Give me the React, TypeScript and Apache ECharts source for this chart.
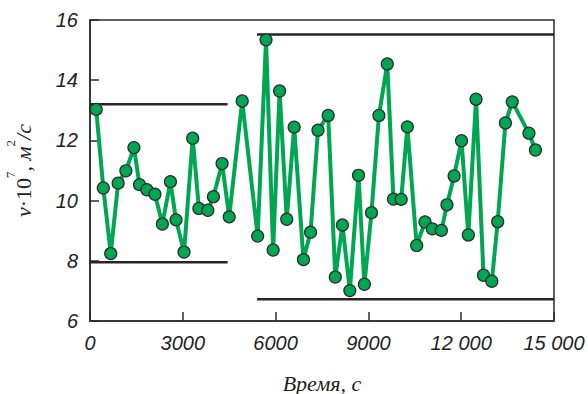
import React, { useEffect, useRef } from "react";
import * as echarts from "echarts";

const times = [
  200, 430, 670, 910, 1160, 1420, 1600, 1840, 2100, 2340,
  2600, 2780, 3040, 3320, 3520, 3810, 3990, 4270, 4500, 4920,
  5420, 5690, 5920, 6130, 6360, 6600, 6900, 7130, 7370, 7700,
  7930, 8160, 8400, 8680, 8870, 9100, 9340, 9610, 9810, 10060,
  10260, 10560, 10830, 11070, 11360, 11540, 11770, 12010, 12230, 12480,
  12720, 12990, 13180, 13430, 13650, 14190, 14400,
];
const viscosity = [
  13.03, 10.42, 8.24, 10.58, 10.99, 11.76, 10.53, 10.36, 10.21, 9.22,
  10.63, 9.36, 8.29, 12.07, 9.74, 9.68, 10.13, 11.23, 9.46, 13.31,
  8.82, 15.34, 8.36, 13.64, 9.38, 12.44, 8.04, 8.95, 12.34, 12.83,
  7.46, 9.19, 7.01, 10.84, 7.22, 9.6, 12.83, 14.54, 10.05, 10.04,
  12.45, 8.51, 9.29, 9.06, 9.01, 9.86, 10.82, 11.99, 8.86, 13.37,
  7.52, 7.32, 9.3, 12.58, 13.28, 12.24, 11.68,
];
// bounds: [xStart, xEnd, upper, lower]
const bound1 = [0, 4450, 13.2, 7.95];
const bound2 = [5400, 15000, 15.52, 6.72];
const xTicks = [0, 3000, 6000, 9000, 12000, 15000];
const xTickLabels = ["0", "3000", "6000", "9000", "12 000", "15 000"];

export default function App() {
  const ref = useRef<HTMLDivElement>(null);
  useEffect(() => {
    document.body.style.margin = "0";
    if (!ref.current) return;
    const chart = echarts.init(ref.current, null, { renderer: "svg" });
    const seg = (b: number[], y: number) => ({
      type: "line",
      data: [
        [b[0], y],
        [b[1], y],
      ],
      showSymbol: false,
      symbol: "none",
      lineStyle: { color: "#262626", width: 2.5 },
      z: 1,
      silent: true,
    });
    const labelFont = {
      fontFamily: "Liberation Sans",
      fontStyle: "italic",
      fontSize: 20,
      color: "#222",
    };
    const serif = "Liberation Serif";
    chart.setOption({
      animation: false,
      grid: {
        left: 90,
        right: 34,
        top: 20,
        bottom: 73,
        outerBoundsMode: "none",
        containLabel: false,
        show: true,
        borderColor: "#2b2b2b",
        borderWidth: 1.5,
        backgroundColor: "transparent",
      },
      xAxis: {
        type: "value",
        min: 0,
        max: 15000,
        interval: 3000,
        splitLine: { show: false },
        axisLine: { show: true, lineStyle: { color: "#2b2b2b", width: 1.5 } },
        axisTick: { show: true, inside: true, length: 9, lineStyle: { color: "#2b2b2b", width: 1.5 } },
        axisLabel: {
          ...labelFont,
          margin: 12,
          formatter: (v: number) => {
            const i = xTicks.indexOf(v);
            return i >= 0 ? xTickLabels[i] : String(v);
          },
        },
        name: "Время, с",
        nameLocation: "middle",
        nameGap: 51,
        nameTextStyle: {
          fontFamily: serif,
          fontStyle: "italic",
          fontSize: 22,
          color: "#222",
        },
      },
      yAxis: {
        type: "value",
        min: 6,
        max: 16,
        interval: 2,
        splitLine: { show: false },
        axisLine: { show: true, lineStyle: { color: "#2b2b2b", width: 1.5 } },
        axisTick: { show: true, inside: true, length: 9, lineStyle: { color: "#2b2b2b", width: 1.5 } },
        axisLabel: { ...labelFont, margin: 12 },
        name: "{i|v}{n|·10}{s|7}{i|, м}{s|2}{i|/с}",
        nameLocation: "middle",
        nameRotate: 90,
        nameGap: 48,
        nameTextStyle: {
          fontFamily: serif,
          fontSize: 22,
          color: "#222",
          rich: {
            i: { fontFamily: serif, fontStyle: "italic", fontSize: 22, lineHeight: 38, color: "#222" },
            n: { fontFamily: serif, fontSize: 22, lineHeight: 38, color: "#222" },
            s: { fontFamily: serif, fontSize: 13, lineHeight: 13, verticalAlign: "top", color: "#222" },
          },
        },
      },
      series: [
        seg(bound1, bound1[2]),
        seg(bound1, bound1[3]),
        seg(bound2, bound2[2]),
        seg(bound2, bound2[3]),
        {
          type: "line",
          data: times.map((t, i) => [t, viscosity[i]]),
          symbol: "circle",
          symbolSize: 12,
          showAllSymbol: true,
          lineStyle: { color: "#00a651", width: 4 },
          itemStyle: { color: "#00a651", borderColor: "#2a2a2a", borderWidth: 1.2 },
          z: 3,
        },
      ],
    });
    return () => chart.dispose();
  }, []);
  return <div ref={ref} style={{ width: 588, height: 394 }} />;
}
